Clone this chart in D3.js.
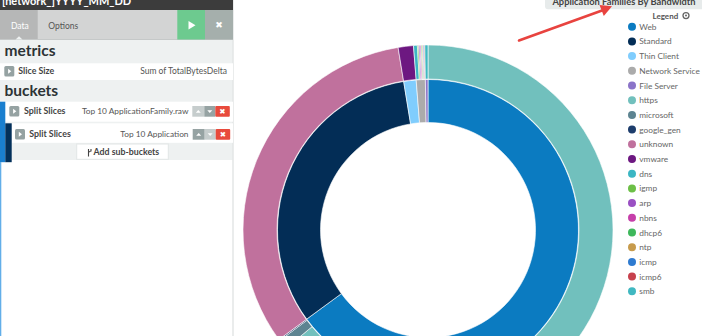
<!DOCTYPE html>
<html>
<head>
<meta charset="utf-8">
<script src="https://cdn.jsdelivr.net/npm/d3@7"></script>
<style>
  html, body { margin: 0; padding: 0; background: #fff; overflow: hidden; }
  svg { display: block; font-family: Lato, "Open Sans", sans-serif; }
</style>
</head>
<body>
<svg id="chart" width="702" height="336"></svg>
<script>
// Inner ring: application families
const families = ["Web", "Standard", "Thin Client", "Network Service", "File Server"];
const familyColors = ["#0b7bc1", "#032d56", "#80cdfd", "#ababab", "#8b74c8"];

// Outer ring: applications, listed in family order
const applications = ["https", "microsoft", "google_gen", "unknown", "vmware",
  "dns", "igmp", "arp", "nbns", "dhcp6", "ntp", "icmp", "icmp6", "smb"];
const applicationFamily = ["Web", "Web", "Web", "Standard", "Thin Client",
  "Network Service", "Network Service", "Network Service", "Network Service",
  "Network Service", "Network Service", "Network Service", "Network Service", "File Server"];
// Sum of TotalBytesDelta per application (GB)
const applicationBytes = [2300, 31, 4, 1169, 48, 12, 4, 4, 3.5, 3, 3, 3, 2.5, 10];
const applicationColors = ["#71c0bd", "#5d8491", "#1d3d6c", "#c0719d", "#6d1881",
  "#3bb6c3", "#6cbf46", "#9a50c3", "#c63faa", "#3eb85b", "#c79b4c", "#2f7bd0", "#c7414d", "#40b8c1"];

// Editor panel texts
const tabLabels = ["Data", "Options"];
const panelTitle = "[network_]YYYY_MM_DD";
const chartTitle = "Application Families By Bandwidth";

const svg = d3.select("#chart");

/* ---------------- editor sidebar ---------------- */
const side = svg.append("g");
side.append("rect").attr("x", 0).attr("y", 0).attr("width", 233).attr("height", 160).attr("fill", "#eef1f1");
side.append("rect").attr("x", 0).attr("y", 160).attr("width", 233).attr("height", 176).attr("fill", "#fff");
side.append("line").attr("x1", 233).attr("x2", 233).attr("y1", 0).attr("y2", 336).attr("stroke", "#e3e6e6").attr("stroke-width", 1.5);

// top dark bar with index pattern name
side.append("rect").attr("x", 0).attr("y", 0).attr("width", 233).attr("height", 10).attr("fill", "#3c3c3c");
side.append("text").attr("x", 2).attr("y", 4.5).attr("fill", "#fff").attr("font-weight", 700).attr("font-size", 11).text(panelTitle);

// tab bar
side.append("rect").attr("x", 0).attr("y", 10).attr("width", 233).attr("height", 29.5).attr("fill", "#d3d4d4");
side.append("rect").attr("x", 0).attr("y", 10).attr("width", 37.7).attr("height", 29.5).attr("fill", "#b6b7b7");
side.append("line").attr("x1", 0).attr("x2", 233).attr("y1", 39.5).attr("y2", 39.5).attr("stroke", "#c5c8c8").attr("stroke-width", 1);
side.append("path").attr("d", "M15.5,39.6 L19,36.3 L22.5,39.6 Z").attr("fill", "#eef1f1");
side.append("text").attr("x", 11).attr("y", 28.5).attr("fill", "#fff").attr("font-size", 8.5).text(tabLabels[0]);
side.append("text").attr("x", 48.3).attr("y", 28.5).attr("fill", "#555").attr("font-size", 8.5).text(tabLabels[1]);
side.append("rect").attr("x", 177.3).attr("y", 10).attr("width", 27.7).attr("height", 29.5).attr("fill", "#6dca8f");
side.append("path").attr("d", "M188.5,21 L195.5,25.2 L188.5,29.4 Z").attr("fill", "#fff");
side.append("rect").attr("x", 205).attr("y", 10).attr("width", 28).attr("height", 29.5).attr("fill", "#a5afac");
side.append("text").attr("x", 219).attr("y", 28.2).attr("text-anchor", "middle").attr("fill", "#fff")
  .attr("font-size", 9).attr("font-weight", 700).attr("font-family", "DejaVu Sans").text("\u2716");

// section headers
side.append("text").attr("x", 4.5).attr("y", 55.5).attr("fill", "#2d3436").attr("font-weight", 700).attr("font-size", 15.5).text("metrics");
side.append("text").attr("x", 4.5).attr("y", 96).attr("fill", "#2d3436").attr("font-weight", 700).attr("font-size", 15.5).text("buckets");

function caretIcon(x, y) {
  side.append("rect").attr("x", x).attr("y", y).attr("width", 10).attr("height", 10.5).attr("rx", 1.5).attr("fill", "#95a2a2");
  side.append("path").attr("d", `M${x + 3.8},${y + 2.8} L${x + 7},${y + 5.25} L${x + 3.8},${y + 7.7} Z`).attr("fill", "#fff");
}
function rowButtons(x, y, upDisabled) {
  const light = "#c6cdcd", dark = "#96a3a3";
  side.append("rect").attr("x", x).attr("y", y).attr("width", 12).attr("height", 10.7).attr("fill", upDisabled ? light : dark);
  side.append("path").attr("d", `M${x + 3.5},${y + 6.8} L${x + 6},${y + 4} L${x + 8.5},${y + 6.8} Z`).attr("fill", "#fff");
  side.append("rect").attr("x", x + 12).attr("y", y).attr("width", 11).attr("height", 10.7).attr("fill", upDisabled ? dark : light);
  side.append("path").attr("d", `M${x + 15},${y + 4.2} L${x + 17.5},${y + 7} L${x + 20},${y + 4.2} Z`).attr("fill", "#fff");
  side.append("rect").attr("x", x + 23).attr("y", y).attr("width", 14.5).attr("height", 10.7).attr("rx", 1).attr("fill", "#e84a3c");
  side.append("text").attr("x", x + 30.2).attr("y", y + 8.4).attr("text-anchor", "middle").attr("fill", "#fff")
    .attr("font-size", 7.5).attr("font-weight", 700).attr("font-family", "DejaVu Sans").text("\u2716");
}

// metric row
side.append("rect").attr("x", 0).attr("y", 63.3).attr("width", 233).attr("height", 16.7).attr("fill", "#fff");
caretIcon(4.3, 66);
side.append("text").attr("x", 18.3).attr("y", 74.3).attr("fill", "#444").attr("font-weight", 700).attr("font-size", 8.8).text("Slice Size");
side.append("text").attr("x", 227).attr("y", 74.3).attr("text-anchor", "end").attr("fill", "#555").attr("font-size", 8.5).text("Sum of TotalBytesDelta");

// bucket rows
side.append("rect").attr("x", 0).attr("y", 101.7).attr("width", 233).attr("height", 20).attr("fill", "#fff");
side.append("rect").attr("x", 11.7).attr("y", 123.3).attr("width", 221.3).attr("height", 19.5).attr("fill", "#fff");
side.append("rect").attr("x", 0).attr("y", 101.7).attr("width", 5.3).attr("height", 60.5).attr("fill", "#1a7fcf");
side.append("rect").attr("x", 5.3).attr("y", 123.3).attr("width", 6.4).attr("height", 38.9).attr("fill", "#03305a");
side.append("rect").attr("x", 0).attr("y", 162).attr("width", 1.3).attr("height", 174).attr("fill", "#62aee9");

caretIcon(9.3, 106);
side.append("text").attr("x", 24).attr("y", 114.3).attr("fill", "#444").attr("font-weight", 700).attr("font-size", 8.8).text("Split Slices");
side.append("text").attr("x", 188.5).attr("y", 114.3).attr("text-anchor", "end").attr("fill", "#555").attr("font-size", 8.3).text("Top 10 ApplicationFamily.raw");
rowButtons(192.3, 106, true);

caretIcon(15, 129);
side.append("text").attr("x", 29.3).attr("y", 137.3).attr("fill", "#444").attr("font-weight", 700).attr("font-size", 8.8).text("Split Slices");
side.append("text").attr("x", 188.5).attr("y", 137.3).attr("text-anchor", "end").attr("fill", "#555").attr("font-size", 8.3).text("Top 10 Application");
rowButtons(192.7, 129, false);

// add sub-buckets button
side.append("rect").attr("x", 76.7).attr("y", 144).attr("width", 91.6).attr("height", 15.3).attr("fill", "#fff")
  .attr("stroke", "#e2e6e6").attr("stroke-width", 1);
side.append("path").attr("d", "M88.5,149 L88.5,156.5 M88.5,153 Q88.5,151.5 91,151 L91,149")
  .attr("fill", "none").attr("stroke", "#444").attr("stroke-width", 1.1);
side.append("text").attr("x", 93.5).attr("y", 155.3).attr("fill", "#444").attr("font-weight", 700).attr("font-size", 8.8).text("Add sub-buckets");

/* ---------------- chart title and legend ---------------- */
svg.append("rect").attr("x", 545).attr("y", -10).attr("width", 160).attr("height", 19.3).attr("rx", 3).attr("fill", "#e7ebeb");
svg.append("text").attr("x", 624).attr("y", 4.5).attr("text-anchor", "middle").attr("fill", "#444")
  .attr("font-weight", 700).attr("font-size", 9.3).text(chartTitle);

svg.append("text").attr("x", 652.5).attr("y", 18.5).attr("fill", "#555").attr("font-weight", 700).attr("font-size", 8).text("Legend");
svg.append("circle").attr("cx", 686).attr("cy", 15.6).attr("r", 3).attr("fill", "none").attr("stroke", "#666").attr("stroke-width", 1.3);
svg.append("circle").attr("cx", 686).attr("cy", 15.6).attr("r", 1).attr("fill", "#666");

const legendNames = families.concat(applications);
const legendColors = familyColors.concat(applicationColors);
const legendY = d3.scaleLinear().domain([0, legendNames.length - 1]).range([26.7, 291.3]);
const legend = svg.append("g").selectAll("g").data(legendNames).join("g")
  .attr("transform", (d, i) => `translate(632,${legendY(i)})`);
legend.append("circle").attr("r", 4).attr("fill", (d, i) => legendColors[i]);
legend.append("text").attr("x", 7.3).attr("y", 3).attr("fill", "#666").attr("font-size", 8.3).text(d => d);

/* ---------------- nested donut ---------------- */
const cx = 428, cy = 230;
const donut = svg.append("g").attr("transform", `translate(${cx},${cy})`);

const familyBytes = families.map(f => d3.sum(applicationBytes.filter((v, i) => applicationFamily[i] === f)));
const pie = d3.pie().sort(null).value(d => d);

const innerArc = d3.arc().innerRadius(107.5).outerRadius(150.5);
const outerArc = d3.arc().innerRadius(151).outerRadius(185);

donut.append("g").selectAll("path").data(pie(familyBytes)).join("path")
  .attr("d", innerArc)
  .attr("fill", (d, i) => familyColors[i])
  .attr("stroke", "#fff").attr("stroke-width", 0.7).attr("stroke-opacity", 0.85);

donut.append("g").selectAll("path").data(pie(applicationBytes)).join("path")
  .attr("d", outerArc)
  .attr("fill", (d, i) => applicationColors[i])
  .attr("stroke", "#fff").attr("stroke-width", 0.7).attr("stroke-opacity", 0.85);

/* ---------------- pointer arrow ---------------- */
svg.append("line").attr("x1", 519).attr("y1", 40.5).attr("x2", 602).attr("y2", 10.5)
  .attr("stroke", "#e8433f").attr("stroke-width", 2.6).attr("stroke-linecap", "round");
svg.append("path").attr("d", "M612,6.3 L599.5,5 L603.8,16 Z").attr("fill", "#e8433f");
</script>
</body>
</html>
